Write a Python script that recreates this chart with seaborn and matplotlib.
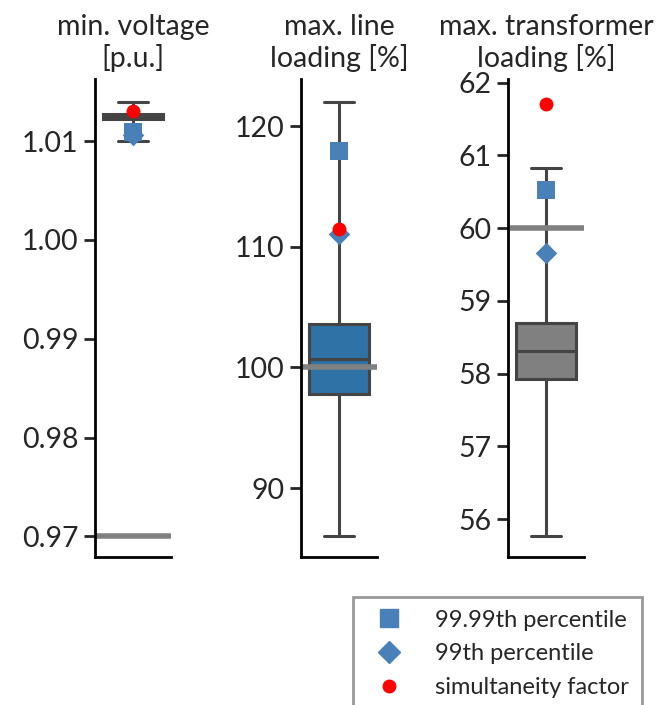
import numpy as np
import pandas as pd
import matplotlib
matplotlib.use("Agg")
import matplotlib.pyplot as plt
from matplotlib.lines import Line2D
import seaborn as sns

sns.set_style("ticks")
plt.rcParams['font.family'] = ['Lato', 'DejaVu Sans']

# ---- data ----
titles = ["min. voltage\n[p.u.]", "max. line\nloading [%]", "max. transformer\nloading [%]"]
# five-number summaries: min, Q1, median, Q3, max
voltage_stats = [1.0100, 1.0123, 1.0125, 1.0128, 1.0140]
line_stats = [86.0, 97.8, 100.7, 103.6, 122.0]
trafo_stats = [55.77, 57.93, 58.31, 58.70, 60.82]
p9999 = [1.0109, 117.9, 60.53]
p99 = [1.0106, 111.1, 59.66]
simultaneity = [1.0131, 111.5, 61.70]
limits = [0.97, 100, 60]
yticks = [[0.97, 0.98, 0.99, 1.00, 1.01], [90, 100, 110, 120], [56, 57, 58, 59, 60, 61, 62]]
ylims = [(0.9679, 1.0163), (84.3, 123.9), (55.48, 62.05)]
box_colors = ["#808080", "#2f72a6", "#808080"]
legend_labels = ["99.99th percentile", "99th percentile", "simultaneity factor"]

stats = [voltage_stats, line_stats, trafo_stats]

fig = plt.figure(figsize=(6.59, 7.05), dpi=100)
W, H = 659, 705
lefts = [95, 301, 508]
axes = []
for l in lefts:
    axes.append(fig.add_axes([l / W, 1 - 557 / H, 76 / W, (557 - 79) / H]))

marker_color = "#4a80b8"
edge = "#444444"
for i, ax in enumerate(axes):
    df = pd.DataFrame({"value": stats[i]})
    sns.boxplot(data=df, y="value", ax=ax, whis=(0, 100), width=0.8,
                color=box_colors[i], saturation=1, linecolor=edge, linewidth=2.2,
                showfliers=False)
    ax.axhline(limits[i], color="#808080", lw=4, zorder=2.5, solid_capstyle="projecting")
    sns.stripplot(y=[p9999[i]], ax=ax, marker="s", size=13, color=marker_color,
                  jitter=False, zorder=4, linewidth=0)
    sns.stripplot(y=[p99[i]], ax=ax, marker="D", size=11, color=marker_color,
                  jitter=False, zorder=4, linewidth=0)
    sns.stripplot(y=[simultaneity[i]], ax=ax, marker="o", size=10, color="red",
                  jitter=False, zorder=5, linewidth=0)
    ax.set_xlim(-0.5, 0.5)
    ax.set_ylim(*ylims[i])
    ax.set_yticks(yticks[i])
    if i == 0:
        ax.set_yticklabels([f"{v:.2f}" for v in yticks[i]])
    ax.set_xticks([])
    ax.set_xlabel("")
    ax.set_ylabel("")
    ax.set_title(titles[i], fontsize=20.5, pad=9, linespacing=1.15)
    ax.tick_params(axis="y", labelsize=20.5, length=8, width=2, pad=4)
    for s in ["left", "bottom"]:
        ax.spines[s].set_linewidth(2)
        ax.spines[s].set_color("black")
    sns.despine(ax=ax)

handles = [
    Line2D([], [], marker="s", color=marker_color, ls="none", ms=13, label=legend_labels[0]),
    Line2D([], [], marker="D", color=marker_color, ls="none", ms=11, label=legend_labels[1]),
    Line2D([], [], marker="o", color="red", ls="none", ms=9, label=legend_labels[2]),
]
leg = fig.legend(handles=handles, loc="upper left", bbox_to_anchor=(353 / W, 1 - 597 / H),
                 fontsize=17, frameon=True, fancybox=False, edgecolor="#808080",
                 borderpad=0.53, labelspacing=0.55, handletextpad=0.95, borderaxespad=0)
leg.get_frame().set_linewidth(2)

fig.savefig("out.png", dpi=100)
